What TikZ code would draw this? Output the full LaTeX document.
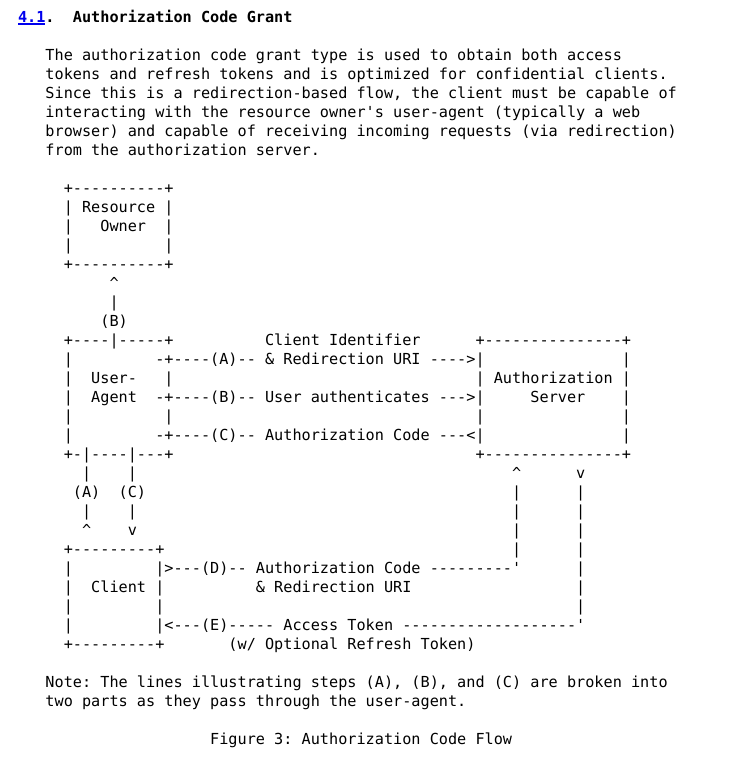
\documentclass[tikz,border=0pt]{standalone}
\usepackage{fontspec}
\setmonofont{DejaVu Sans Mono}
\usepackage{tikz}

\definecolor{linkblue}{RGB}{0,0,238}

\tikzset{
  ascii/.style={anchor=base west, inner sep=0pt, outer sep=0pt,
    font=\ttfamily\fontsize{15.2}{19}\selectfont, text=black},
  heading/.style={ascii, font=\ttfamily\bfseries\fontsize{15.2}{19}\selectfont},
  link/.style={heading, text=linkblue},
}
% place a piece of monospaced text at character column #3 and line #4
\newcommand{\asciiat}[5][ascii]{\node[#1] (#2) at ({18+9.15*#3},{22+19*#4}) {#5};}

\begin{document}
\frenchspacing
\begin{tikzpicture}[x=1pt,y=-1pt]
\fill[white] (0,0) rectangle (732,772);
\useasboundingbox (0,0) rectangle (732,772);

% section heading
\asciiat[link]{hnum}{0}{0}{4.1}
\asciiat[heading]{hdot}{3}{0}{.}
\asciiat[heading]{htitle}{6}{0}{Authorization Code Grant}
\draw[linkblue, line width=1.2pt] ([yshift=-1.9pt]hnum.base west) -- ([yshift=-1.9pt]hnum.base east);

% introduction
\asciiat{p1}{3}{2}{The authorization code grant type is used to obtain both access}
\asciiat{p2}{3}{3}{tokens and refresh tokens and is optimized for confidential clients.}
\asciiat{p3}{3}{4}{Since this is a redirection-based flow, the client must be capable of}
\asciiat{p4}{3}{5}{interacting with the resource owner's user-agent (typically a web}
\asciiat{p5}{3}{6}{browser) and capable of receiving incoming requests (via redirection)}
\asciiat{p6}{3}{7}{from the authorization server.}

% resource owner
\asciiat{ro1}{5}{9}{+----------+}
\asciiat{ro2}{5}{10}{|~Resource~|}
\asciiat{ro3}{5}{11}{|~~~Owner~~|}
\asciiat{ro4}{5}{12}{|~~~~~~~~~~|}
\asciiat{ro5}{5}{13}{+----------+}
\asciiat{b1}{10}{14}{\textasciicircum}
\asciiat{b2}{10}{15}{|}
\asciiat{b3}{9}{16}{(B)}

% user-agent and authorization server
\asciiat{ua1}{5}{17}{+----|-----+}
\asciiat{ci}{27}{17}{Client Identifier}
\asciiat{as1}{50}{17}{+---------------+}
\asciiat{ua2}{5}{18}{|~~~~~~~~~-+----(A)--~\&~Redirection~URI~---->|~~~~~~~~~~~~~~~|}
\asciiat{ua3}{5}{19}{|~~User-~~~|}
\asciiat{as3}{50}{19}{|~Authorization~|}
\asciiat{ua4}{5}{20}{|~~Agent~~-+----(B)--~User~authenticates~--->|~~~~~Server~~~~|}
\asciiat{ua5}{5}{21}{|~~~~~~~~~~|}
\asciiat{as5}{50}{21}{|~~~~~~~~~~~~~~~|}
\asciiat{ua6}{5}{22}{|~~~~~~~~~-+----(C)--~Authorization~Code~---<|~~~~~~~~~~~~~~~|}
\asciiat{ua7}{5}{23}{+-|----|---+}
\asciiat{as7}{50}{23}{+---------------+}

% steps (A) and (C) down to the client
\asciiat{a1}{7}{24}{|}
\asciiat{c1}{12}{24}{|}
\asciiat{a2}{6}{25}{(A)}
\asciiat{c2}{11}{25}{(C)}
\asciiat{a3}{7}{26}{|}
\asciiat{c3}{12}{26}{|}
\asciiat{a4}{7}{27}{\textasciicircum}
\asciiat{c4}{12}{27}{v}

% return lines on the right
\asciiat{d1}{54}{24}{\textasciicircum}
\asciiat{e1}{61}{24}{v}
\asciiat{d2}{54}{25}{|}
\asciiat{e2}{61}{25}{|}
\asciiat{d3}{54}{26}{|}
\asciiat{e3}{61}{26}{|}
\asciiat{d4}{54}{27}{|}
\asciiat{e4}{61}{27}{|}
\asciiat{d5}{54}{28}{|}
\asciiat{e5}{61}{28}{|}
\asciiat{e6}{61}{29}{|}
\asciiat{e7}{61}{30}{|}
\asciiat{e8}{61}{31}{|}

% client
\asciiat{cl1}{5}{28}{+---------+}
\asciiat{cl2}{5}{29}{|~~~~~~~~~|>---(D)--~Authorization~Code~---------'}
\asciiat{cl3}{5}{30}{|~~Client~|}
\asciiat{ru}{26}{30}{\&~Redirection~URI}
\asciiat{cl4}{5}{31}{|~~~~~~~~~|}
\asciiat{cl5}{5}{32}{|~~~~~~~~~|<---(E)-----~Access~Token~-------------------'}
\asciiat{cl6}{5}{33}{+---------+}
\asciiat{rt}{23}{33}{(w/~Optional~Refresh~Token)}

% note and caption
\asciiat{n1}{3}{35}{Note: The lines illustrating steps (A), (B), and (C) are broken into}
\asciiat{n2}{3}{36}{two parts as they pass through the user-agent.}
\asciiat{cap}{21}{38}{Figure 3: Authorization Code Flow}
\end{tikzpicture}
\end{document}
